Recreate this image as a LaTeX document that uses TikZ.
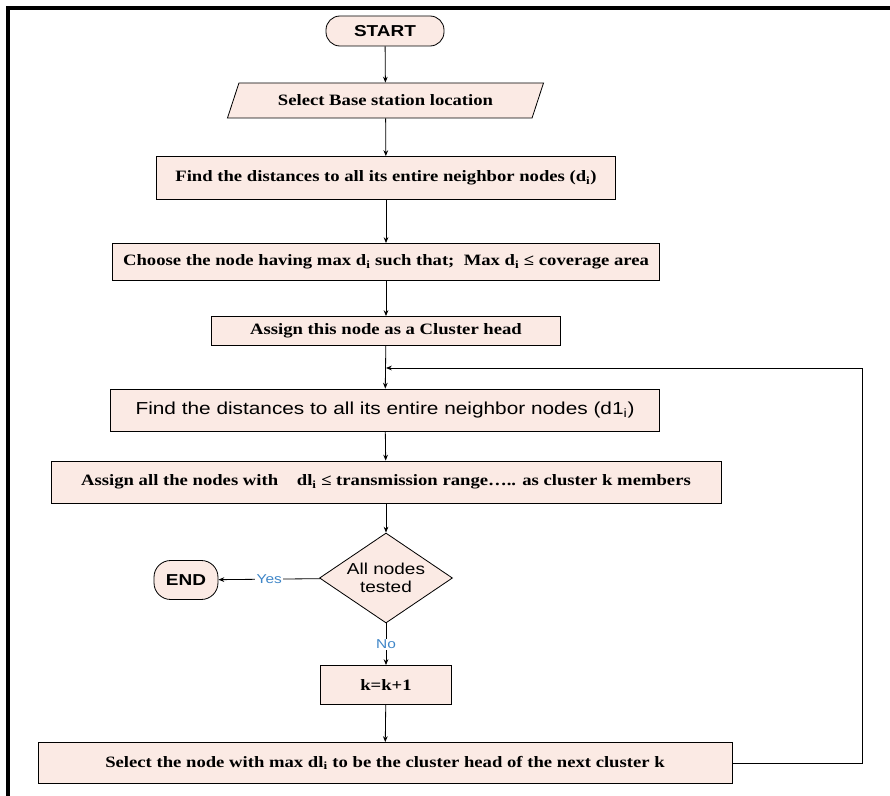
\documentclass[tikz,border=0pt]{standalone}
\usepackage{fontspec}
\setmainfont{Liberation Serif}
\setsansfont{Liberation Sans}
\newfontfamily\wideserif[FakeStretch=1.18]{Liberation Serif}
\newfontfamily\widesans[FakeStretch=1.2]{Liberation Sans}
\usetikzlibrary{shapes.geometric,arrows.meta}
\definecolor{boxfill}{HTML}{FBEAE4}
\definecolor{labelblue}{HTML}{3F86C8}
\tikzset{
	stepbox/.style={draw, fill=boxfill, line width=0.7pt, inner sep=2pt, font=\wideserif\bfseries\fontsize{13.5}{15}\selectfont},
	termbox/.style={stepbox, rounded corners=0.42cm, font=\widesans\bfseries\fontsize{13.5}{15}\selectfont},
	iobox/.style={stepbox, trapezium, trapezium left angle=61.5, trapezium right angle=118.5, trapezium stretches=true},
	testbox/.style={stepbox, diamond, aspect=1.48, inner sep=0pt, font=\widesans\fontsize{13.5}{15.5}\selectfont, align=center},
	yesno/.style={fill=white, inner sep=1pt, text=labelblue, font=\widesans\fontsize{11}{12}\selectfont}
}
\begin{document}
\begin{tikzpicture}[x=0.03cm, y=-0.03cm, >={Stealth[length=5pt,width=4pt]}]
	        \useasboundingbox (0,0) rectangle (890,796);
	        \draw [black, line width=3.4pt] (8,796) -- (8,8) -- (890,8);
	
	        \node [termbox, minimum width=3.54cm, minimum height=0.9cm] at (385, 31) (start) {START};
	        \node [iobox, minimum width=9.51cm, minimum height=1.05cm] at (385.5, 100.5) (base) {Select Base station location};
	        \node [stepbox, minimum width=13.77cm, minimum height=1.29cm] at (386, 178) (dist) {Find the distances to all its entire neighbor nodes (d\textsubscript{i})};
	        \node [stepbox, minimum width=16.41cm, minimum height=1.11cm] at (386, 262) (choose) {Choose the node having max d\textsubscript{i} such that;\ \ Max d\textsubscript{i} ≤ coverage area};
	        \node [stepbox, minimum width=10.47cm, minimum height=0.87cm] at (386, 331) (head) {Assign this node as a Cluster head};
	        \node [stepbox, font=\widesans\fontsize{14.8}{16}\selectfont, minimum width=16.47cm, minimum height=1.26cm] at (385, 410) (distk) {Find the distances to all its entire neighbor nodes (d1\textsubscript{i})};
	        \node [stepbox, minimum width=20.1cm, minimum height=1.26cm] at (386, 482) (members) {Assign all the nodes with\ \ \ \ dl\textsubscript{i} ≤ transmission range….. as cluster k members};
	        \node [testbox, minimum width=3.99cm, minimum height=2.7cm] at (386, 578) (test) {All nodes\\tested};
	        \node [termbox, rounded corners=0.5cm, minimum width=1.92cm, minimum height=1.17cm] at (186, 580) (end) {END};
	        \node [stepbox, minimum width=3.93cm, minimum height=1.17cm] at (386, 685) (inc) {k=k+1};
	        \node [stepbox, minimum width=20.82cm, minimum height=1.23cm] at (385, 763) (next) {Select the node with max dl\textsubscript{i} to be the cluster head of the next cluster k};
	        \coordinate (join) at (386, 368);
	        \coordinate (turn) at (862, 763);
	
	        \draw [black, line width=0.7pt, ->] (start) -- (base);
	        \draw [black, line width=0.7pt, ->] (base) -- (dist);
	        \draw [black, line width=0.7pt, ->] (dist) -- (choose);
	        \draw [black, line width=0.7pt, ->] (choose) -- (head);
	        \draw [black, line width=0.7pt, ->] (head) -- (distk);
	        \draw [black, line width=0.7pt, ->] (distk) -- (members);
	        \draw [black, line width=0.7pt, ->] (members) -- (test);
	        \draw [black, line width=0.7pt, ->] (test) -- node[yesno] {Yes} (end);
	        \draw [black, line width=0.7pt, ->] (test) -- node[yesno] {No} (inc);
	        \draw [black, line width=0.7pt, ->] (inc) -- (next);
	        \draw [black, line width=0.7pt, ->] (next) -- (turn) |- (join);
        \end{tikzpicture}
\end{document}
